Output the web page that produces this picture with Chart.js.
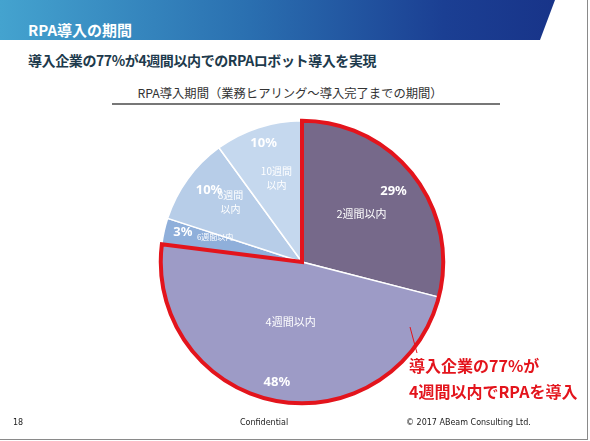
<!DOCTYPE html>
<html lang="ja">
<head>
<meta charset="utf-8">
<title>RPA導入の期間</title>
<script src="https://cdn.jsdelivr.net/npm/chart.js@4.4.0/dist/chart.umd.min.js"></script>
<style>
  html, body { margin: 0; padding: 0; background: #fff; }
  #slide {
    position: relative; width: 587px; height: 439px; overflow: hidden;
    border-right: 1px solid #8a8a8a; border-bottom: 1px solid #8a8a8a;
    font-family: "Noto Sans CJK JP", "Noto Sans", sans-serif;
  }
  #header {
    position: absolute; left: 0; top: 0; width: 555px; height: 40px;
    background: linear-gradient(90deg, #44a3cf 0%, #2a6fb0 45%, #1b3f93 80%, #183489 100%);
    clip-path: polygon(0 0, 555px 0, 540px 40px, 0 40px);
  }
  #header span {
    position: absolute; left: 28px; top: 20px; color: #fff;
    font-weight: bold; font-size: 15px; line-height: 20px;
  }
  #subtitle {
    position: absolute; left: 28px; top: 49px; color: #1d3a4c;
    font-weight: bold; font-size: 14px; line-height: 22px; letter-spacing: -0.4px;
  }
  #chartTitle {
    position: absolute; left: 96px; top: 84px; width: 388px; text-align: center;
    font-size: 12.3px; line-height: 18px; color: #333;
  }
  #rule { position: absolute; left: 112px; top: 103px; width: 388px; height: 0; border-top: 2px solid #777; }
  #chartBox { position: absolute; left: 152px; top: 112px; width: 300px; height: 300px; }
  #note {
    position: absolute; left: 409px; top: 352px; color: #e3141c;
    font-weight: bold; font-size: 16px; line-height: 26px;
  }
  #leader { position: absolute; left: 0; top: 0; }
  .foot { position: absolute; top: 418px; font-family: "DejaVu Sans", sans-serif; font-size: 8px; color: #222; }
</style>
</head>
<body>
<div id="slide">
  <div id="header"><span>RPA導入の期間</span></div>
  <div id="subtitle">導入企業の77%が4週間以内でのRPAロボット導入を実現</div>
  <div id="chartTitle">RPA導入期間（業務ヒアリング～導入完了までの期間）</div>
  <div id="rule"></div>
  <div id="chartBox"><canvas id="pie" width="300" height="300"></canvas></div>
  <svg id="leader" width="590" height="441"><line x1="410" y1="327" x2="417" y2="353" stroke="#e3141c" stroke-width="1"/></svg>
  <div id="note">導入企業の77%が<br>4週間以内でRPAを導入</div>
  <div class="foot" style="left:13px">18</div>
  <div class="foot" style="left:240px">Confidential</div>
  <div class="foot" style="left:406px">© 2017 ABeam Consulting Ltd.</div>
</div>
<script>
// DATA (share of companies by time to deploy)
const periods = ['2週間以内', '4週間以内', '6週間以内', '8週間以内', '10週間以内'];
const shares = [29, 48, 3, 10, 10];
// how each category label is broken over lines inside its slice
const periodLines = [['2週間以内'], ['4週間以内'], ['6週間以内'], ['8週間', '以内'], ['10週間', '以内']];

const sliceColors = ['#76698a', '#9d9bc6', '#8fafda', '#b7cde8', '#c5d8ee'];

// where the labels sit inside each slice: radius fraction for % and name, angle nudge in degrees, name font size
const labelPlace = [
  { pr: 0.82, lr: 0.54, pa: 0, la: -1, size: 11 },
  { pr: 0.87, lr: 0.43, pa: 1, la: 0, size: 11 },
  { pr: 0.87, lr: 0.64, pa: 1.5, la: 3.5, size: 8 },
  { pr: 0.83, lr: 0.66, pa: 1.5, la: 4, size: 10 },
  { pr: 0.88, lr: 0.62, pa: 0, la: 1, size: 10 }
];

// how many leading slices the red frame wraps (2 + 4 weeks = 77%)
const framedSlices = 2;

// Plugin that writes the % and the period name on each slice
const sliceLabels = {
  id: 'sliceLabels',
  afterDatasetsDraw(chart) {
    const ctx = chart.ctx;
    const arcs = chart.getDatasetMeta(0).data;
    ctx.save();
    ctx.fillStyle = '#fff';
    ctx.textAlign = 'center';
    ctx.textBaseline = 'middle';
    arcs.forEach((arc, i) => {
      const p = arc.getProps(['x', 'y', 'startAngle', 'endAngle', 'outerRadius'], true);
      const mid = (p.startAngle + p.endAngle) / 2;
      const place = labelPlace[i];
      const pa = mid + place.pa * Math.PI / 180;
      const la = mid + place.la * Math.PI / 180;
      ctx.font = 'bold 13px "Noto Sans", "Noto Sans CJK JP", sans-serif';
      ctx.fillText(shares[i] + '%', p.x + Math.cos(pa) * p.outerRadius * place.pr, p.y + Math.sin(pa) * p.outerRadius * place.pr);
      ctx.font = place.size + 'px "Noto Sans CJK JP", sans-serif';
      const lines = periodLines[i];
      const lx = p.x + Math.cos(la) * p.outerRadius * place.lr;
      const ly = p.y + Math.sin(la) * p.outerRadius * place.lr;
      lines.forEach((t, k) => {
        ctx.fillText(t, lx, ly + (k - (lines.length - 1) / 2) * (place.size + 4));
      });
    });
    ctx.restore();
  }
};

// Plugin that draws the red frame around the first slices
const redFrame = {
  id: 'redFrame',
  afterDatasetsDraw(chart) {
    const ctx = chart.ctx;
    const arcs = chart.getDatasetMeta(0).data;
    const first = arcs[0].getProps(['x', 'y', 'startAngle', 'outerRadius'], true);
    const last = arcs[framedSlices - 1].getProps(['endAngle'], true);
    ctx.save();
    ctx.strokeStyle = '#e3141c';
    ctx.lineWidth = 4;
    ctx.lineJoin = 'miter';
    ctx.beginPath();
    ctx.moveTo(first.x, first.y);
    ctx.arc(first.x, first.y, first.outerRadius, first.startAngle, last.endAngle);
    ctx.closePath();
    ctx.stroke();
    ctx.restore();
  }
};

new Chart(document.getElementById('pie'), {
  type: 'pie',
  data: {
    labels: periods,
    datasets: [{
      data: shares,
      backgroundColor: sliceColors,
      borderColor: '#ffffff',
      borderWidth: 1.5
    }]
  },
  options: {
    responsive: false,
    animation: false,
    layout: { padding: 8 },
    plugins: {
      legend: { display: false },
      tooltip: { enabled: false }
    }
  },
  plugins: [sliceLabels, redFrame]
});
</script>
</body>
</html>
